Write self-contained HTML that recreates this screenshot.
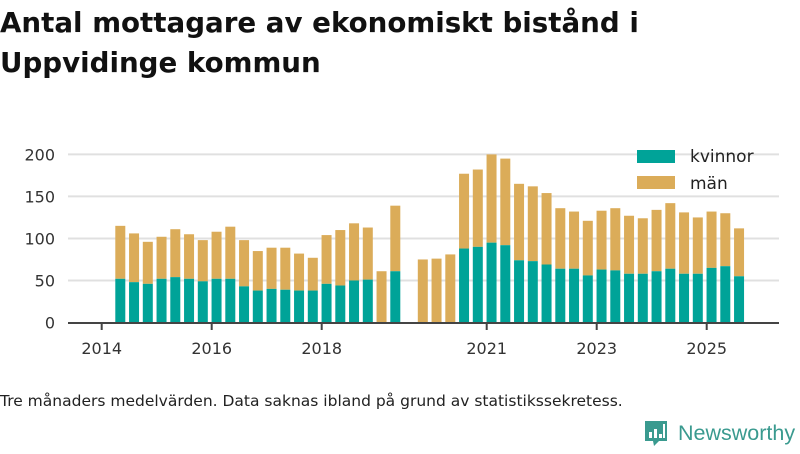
<!DOCTYPE html>
<html><head><meta charset="utf-8">
<style>
html,body{margin:0;padding:0;background:#fff;}
body{width:800px;height:450px;overflow:hidden;font-family:"DejaVu Sans","Liberation Sans",sans-serif;}
svg text{font-family:"DejaVu Sans","Liberation Sans",sans-serif;}
</style></head>
<body>
<svg id="chart" width="800" height="450" viewBox="0 0 800 450">
  <text x="0" y="32" font-size="27.7" font-weight="bold" fill="#111">Antal mottagare av ekonomiskt bistånd i</text>
  <text x="0" y="72" font-size="27.7" font-weight="bold" fill="#111">Uppvidinge kommun</text>
  <g id="grid"></g>
  <g id="yticks"></g>
  <g id="bars"></g>
  <line x1="68" y1="323" x2="779" y2="323" stroke="#444" stroke-width="2"/>
  <g id="xticks"></g>
  <g>
    <rect x="637" y="150" width="38" height="13" fill="#00a398"/>
    <text x="690" y="162" font-size="17" fill="#222">kvinnor</text>
    <rect x="637" y="176" width="38" height="13" fill="#dbac59"/>
    <text x="690" y="189" font-size="17" fill="#222">män</text>
  </g>
  <text x="0" y="406" font-size="15.5" fill="#222">Tre månaders medelvärden. Data saknas ibland på grund av statistikssekretess.</text>
  <g>
    <path d="M645 421 h22 v20 h-8 l-5 5 l-1 -5 h-8 z" fill="#3a9a8f"/>
    <rect x="649" y="432" width="3" height="6" fill="#fff"/>
    <rect x="654" y="429" width="3" height="9" fill="#fff"/>
    <rect x="659" y="434" width="3" height="4" fill="#fff"/>
    <rect x="663" y="424" width="2" height="14" fill="#fff"/>
    <text x="678" y="440" font-size="21.5" fill="#3a9a8f" style="font-family:'Liberation Sans',sans-serif">Newsworthy</text>
  </g>
</svg>
<script>
// quarter index from 2014 Q2
const quarterIndex = [0,1,2,3,4,5,6,7,8,9,10,11,12,13,14,15,16,17,18,19,20,22,23,24,25,26,27,28,29,30,31,32,33,34,35,36,37,38,39,40,41,42,43,44,45];
const kvinnor = [52,48,46,52,54,52,49,52,52,43,38,40,39,38,38,46,44,50,51,null,61,null,null,null,88,90,95,92,74,73,69,64,64,56,63,62,58,58,61,64,58,58,65,67,55];
const totals = [115,106,96,102,111,105,98,108,114,98,85,89,89,82,77,104,110,118,113,61,139,75,76,81,177,182,200,195,165,162,154,136,132,121,133,136,127,124,134,142,131,125,132,130,112];
const yTicks = [0,50,100,150,200];
const xTickYears = [2014,2016,2018,2021,2023,2025];

const NS = "http://www.w3.org/2000/svg";
const y0 = 322.5, pxPerUnit = 0.8405;
function yScale(v){ return y0 - v*pxPerUnit; }
function xYear(yr){ return 101.7 + (yr-2014)*55; }
function xQuarter(i){ return 120.3 + i*13.75; }
function mk(tag, attrs, parent){ const e=document.createElementNS(NS,tag); for(const k in attrs) e.setAttribute(k,attrs[k]); parent.appendChild(e); return e; }

const grid=document.getElementById('grid'), yt=document.getElementById('yticks');
yTicks.forEach(v=>{
  if(v>0){
    const l=mk('line',{x1:68,x2:779,y1:yScale(v),y2:yScale(v),stroke:'#e0e0e0','stroke-width':2},grid);
    
    
  }
  const t=mk('text',{x:55,y:yScale(v)+6,'text-anchor':'end','font-size':16,fill:'#333'},yt);
  t.textContent=v;
  
  
});
const xt=document.getElementById('xticks');
xTickYears.forEach(yr=>{
  const x=xYear(yr);
  const l=mk('line',{x1:x,x2:x,y1:323,y2:330,stroke:'#444','stroke-width':2},xt);
  
  
  const t=mk('text',{x:x,y:354,'text-anchor':'middle','font-size':16,fill:'#333'},xt);
  t.textContent=yr;
  
  
});
const bars=document.getElementById('bars');
const bw=10;
quarterIndex.forEach((qi,i)=>{
  const cx=xQuarter(qi);
  const k=kvinnor[i]==null?0:kvinnor[i];
  const tot=totals[i];
  const m=mk('rect',{x:cx-bw/2,y:yScale(tot),width:bw,height:yScale(k)-yScale(tot),fill:'#dbac59'},bars);
  
  
  if(k>0){
    const r=mk('rect',{x:cx-bw/2,y:yScale(k),width:bw,height:y0-yScale(k),fill:'#00a398'},bars);
    
    
  }
});
</script>
</body></html>
